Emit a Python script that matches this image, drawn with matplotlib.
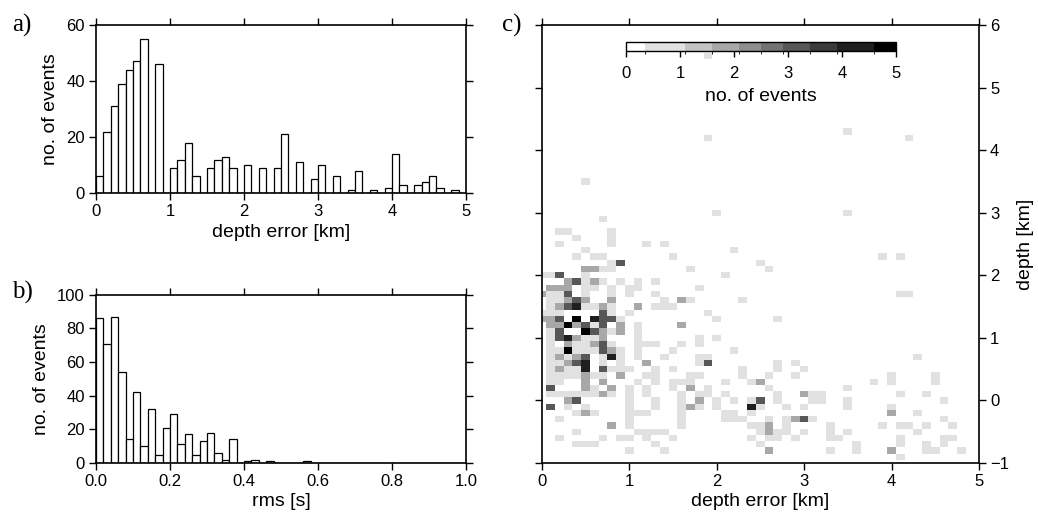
import numpy as np
import matplotlib
matplotlib.use("Agg")
import matplotlib.pyplot as plt
from matplotlib.colors import ListedColormap, BoundaryNorm
from matplotlib.cm import ScalarMappable

plt.rcParams['font.family'] = ['Liberation Sans', 'DejaVu Sans']

# ---------------- data ----------------
# a) histogram of depth error, bins of 0.1 km starting at 0
err_bin_width = 0.1
err_counts = [6, 22, 31, 39, 44, 47, 55, 0, 46, 0,
              9, 12, 18, 6, 0, 9, 12, 13, 9, 0,
              10, 0, 9, 0, 9, 21, 0, 11, 0, 5,
              10, 0, 6, 0, 1, 8, 0, 1, 0, 2,
              14, 3, 0, 3, 4, 6, 2, 0, 1, 0]

# b) histogram of rms, bins of 0.02 s starting at 0
rms_bin_width = 0.02
rms_counts = [86, 71, 87, 54, 14, 42, 10, 32, 5, 21,
              29, 11, 17, 5, 13, 18, 6, 2, 14, 0,
              1, 2, 0, 1, 0, 0, 0, 0, 1, 0,
              0, 0, 0, 0, 0, 0, 0, 0, 0, 0,
              0, 0, 0, 0, 0, 0, 0, 0, 0, 0]

# c) 2-D counts: depth [km] -> "error_index:count" (error = index * 0.1 km)
heat_step = 0.1
heat_cells = {
    5.5: "19:1",
    4.3: "35:1",
    4.2: "19:1 42:1",
    3.5: "5:1",
    3.0: "20:1 35:1",
    2.9: "7:1",
    2.7: "2:1 3:1 8:1",
    2.6: "4:1 8:1",
    2.5: "2:1 8:1 12:1 14:1",
    2.4: "5:1 22:1",
    2.3: "4:1 6:1 7:1 15:1 39:1 41:1",
    2.2: "8:1 9:3 25:1",
    2.1: "5:2 6:2 7:1 8:1 17:1 26:1",
    2.0: "0:1 1:1 2:3 5:1 21:1",
    1.9: "3:2 4:3 5:1 6:2 7:1 9:1 11:1 13:1",
    1.8: "1:2 2:2 3:2 5:1 6:1 8:1 10:1 11:1 18:1",
    1.7: "0:2 1:1 2:1 3:3 5:1 8:1 10:1 13:1 41:1 42:1",
    1.6: "1:1 2:1 3:2 4:3 5:2 8:2 14:1 16:2 17:1 23:1",
    1.5: "1:1 2:2 3:3 4:4 5:1 6:1 7:2 8:1 11:2 13:1 14:1 15:1",
    1.4: "0:1 1:1 2:1 7:3 8:1 10:1 19:1",
    1.3: "0:2 1:2 2:3 4:5 6:4 7:3 8:3 9:1 20:1 27:1",
    1.2: "1:2 2:2 3:5 4:2 5:3 6:1 7:3 9:2 11:1 16:2",
    1.1: "1:1 2:3 5:5 6:3 7:2 8:1 9:2 11:1",
    1.0: "1:1 2:3 3:4 4:2 5:1 6:1 7:2 11:1 18:1 20:1",
    0.9: "1:1 3:2 4:1 5:1 6:2 7:3 8:1 11:1 12:1 13:1 16:1 18:1",
    0.8: "1:1 2:1 3:5 4:1 5:1 6:1 7:3 8:2 9:1 11:1 15:1 22:1",
    0.7: "1:1 2:2 3:1 4:2 5:3 7:1 8:4 9:1 11:1 14:1 18:1 19:1 43:1",
    0.6: "1:1 2:1 3:2 4:3 5:4 7:1 9:1 12:2 18:1 19:3 27:1 29:1",
    0.5: "1:1 2:2 3:1 4:1 5:4 7:3 8:1 9:1 10:1 13:1 15:1 23:1 27:1 30:1",
    0.4: "1:1 2:1 3:1 4:1 5:2 6:1 7:1 9:2 12:1 13:1 17:1 18:1 23:1 26:1 29:1 40:1 45:1",
    0.3: "1:1 2:1 5:2 7:2 11:1 13:1 15:1 16:1 17:1 21:1 24:1 25:2 38:1 40:1 45:1",
    0.2: "1:3 5:2 6:1 8:2 10:1 12:1 15:1 17:2 19:1 26:1 35:1",
    0.1: "1:1 2:1 3:1 4:1 5:1 6:1 7:2 8:1 10:1 12:1 16:1 18:1 19:1 21:1 27:1 30:2 31:1 32:1 41:1 44:1",
    0.0: "3:2 4:3 10:1 13:1 16:1 18:2 20:1 22:1 24:1 25:3 27:1 31:1 32:1 35:1 46:1",
    -0.1: "1:3 3:1 5:1 10:1 13:1 16:1 17:2 18:1 20:1 24:4 25:1 28:1 30:1 35:1 40:1",
    -0.2: "4:1 5:2 6:1 10:1 11:1 12:1 16:1 21:1 22:1 24:1 40:2 43:1",
    -0.3: "2:1 10:1 16:1 21:1 22:1 23:1 26:1 28:1 29:2 30:3 31:1 46:1",
    -0.4: "8:2 10:1 16:1 24:1 25:1 26:2 28:1 33:1 39:1 41:1 42:1 44:1 47:1",
    -0.5: "4:1 11:1 12:1 13:1 14:1 25:1 26:2 27:1 28:1 30:1 33:1 35:1 43:1",
    -0.6: "2:1 7:1 9:1 10:1 12:1 15:1 24:1 26:1 27:1 29:1 33:1 34:1 41:1 46:1 47:1",
    -0.7: "4:1 5:1 6:1 13:1 25:1 36:1 41:1 44:1 46:1",
    -0.8: "10:1 14:1 26:2 33:1 36:1 40:2 44:1 45:1 48:1",
    -0.9: "41:1",
}

# colour scale (no. of events)
cb_bounds = [0, 0.35, 1.1, 1.6, 2.1, 2.5, 2.9, 3.4, 3.9, 4.6, 5.0]
cb_greys = ['#ffffff', '#e1e1e1', '#c4c4c4', '#a8a8a8', '#8e8e8e',
            '#737373', '#575757', '#3b3b3b', '#1f1f1f', '#000000']
cb_ticks = [0, 1, 2, 3, 4, 5]

# ---------------- figure ----------------
W, H = 1038, 518
fig = plt.figure(figsize=(W / 100, H / 100), dpi=100)


def fbox(x0, y0, x1, y1):
    return [x0 / W, 1 - y1 / H, (x1 - x0) / W, (y1 - y0) / H]


def style(ax):
    for s in ax.spines.values():
        s.set_linewidth(1.2)
    ax.tick_params(direction='out', length=5, width=1.0, top=True, right=True,
                   labelsize=12, pad=3)


serif = ['Liberation Serif', 'DejaVu Serif']

# a)
axa = fig.add_axes(fbox(96, 25, 466, 193.3))
err_left = np.arange(len(err_counts)) * err_bin_width
axa.bar(err_left, err_counts, width=err_bin_width, align='edge',
        facecolor='white', edgecolor='black', linewidth=0.9)
axa.set_xlim(0, 5)
axa.set_ylim(0, 60)
axa.set_xticks(range(0, 6))
axa.set_yticks([0, 20, 40, 60])
axa.set_xlabel('depth error [km]', fontsize=14, labelpad=3)
axa.set_ylabel('no. of events', fontsize=14, labelpad=5)
style(axa)

# b)
axb = fig.add_axes(fbox(96, 294.7, 466, 463))
rms_left = np.arange(len(rms_counts)) * rms_bin_width
axb.bar(rms_left, rms_counts, width=rms_bin_width, align='edge',
        facecolor='white', edgecolor='black', linewidth=0.9)
axb.set_xlim(0, 1.0)
axb.set_ylim(0, 100)
axb.set_xticks(np.arange(0, 1.01, 0.2))
axb.set_xticklabels([f'{v:.1f}' for v in np.arange(0, 1.01, 0.2)])
axb.set_yticks(range(0, 101, 20))
axb.set_xlabel('rms [s]', fontsize=14, labelpad=3)
axb.set_ylabel('no. of events', fontsize=14, labelpad=5)
style(axb)

# c)
axc = fig.add_axes(fbox(541.7, 25, 979, 463))
ncol = 51
nrow = 71
counts = np.zeros((nrow, ncol))
for depth, spec in heat_cells.items():
    r = int(round((depth + 1.0) / heat_step))
    for tok in spec.split():
        c, n = tok.split(':')
        counts[r, int(c)] = int(n)
x_edges = (np.arange(ncol + 1) - 0.5) * heat_step
y_edges = -1.0 + (np.arange(nrow + 1) - 0.5) * heat_step
cmap = ListedColormap(cb_greys)
cmap.set_over('#000000')
norm = BoundaryNorm(cb_bounds, cmap.N)
axc.pcolormesh(x_edges, y_edges, counts, cmap=cmap, norm=norm, shading='flat')
axc.set_xlim(0, 5)
axc.set_ylim(-1, 6)
axc.set_xticks(range(0, 6))
axc.set_yticks(range(-1, 7))
style(axc)
axc.tick_params(labelleft=False, labelright=True)
axc.yaxis.set_label_position('right')
axc.set_xlabel('depth error [km]', fontsize=14, labelpad=3)
axc.set_ylabel('depth [km]', fontsize=14, labelpad=6, rotation=90)

# colour bar
cax = fig.add_axes(fbox(626, 42, 896, 51))
cb = fig.colorbar(ScalarMappable(norm=norm, cmap=cmap), cax=cax,
                  orientation='horizontal', spacing='proportional',
                  ticks=cb_ticks)
cb.outline.set_linewidth(1.0)
cax.tick_params(direction='out', length=4, width=1.0, labelsize=12, pad=7)
cax.set_xticklabels([str(t) for t in cb_ticks])
cb.set_label('no. of events', fontsize=14, labelpad=5)

# panel letters
fig.text(12 / W, 1 - 25 / H, 'a)', fontsize=18, family=serif, va='center', ha='left')
fig.text(12 / W, 1 - 292 / H, 'b)', fontsize=18, family=serif, va='center', ha='left')
fig.text(502 / W, 1 - 25 / H, 'c)', fontsize=18, family=serif, va='center', ha='left')

fig.savefig('out.png', dpi=100)
